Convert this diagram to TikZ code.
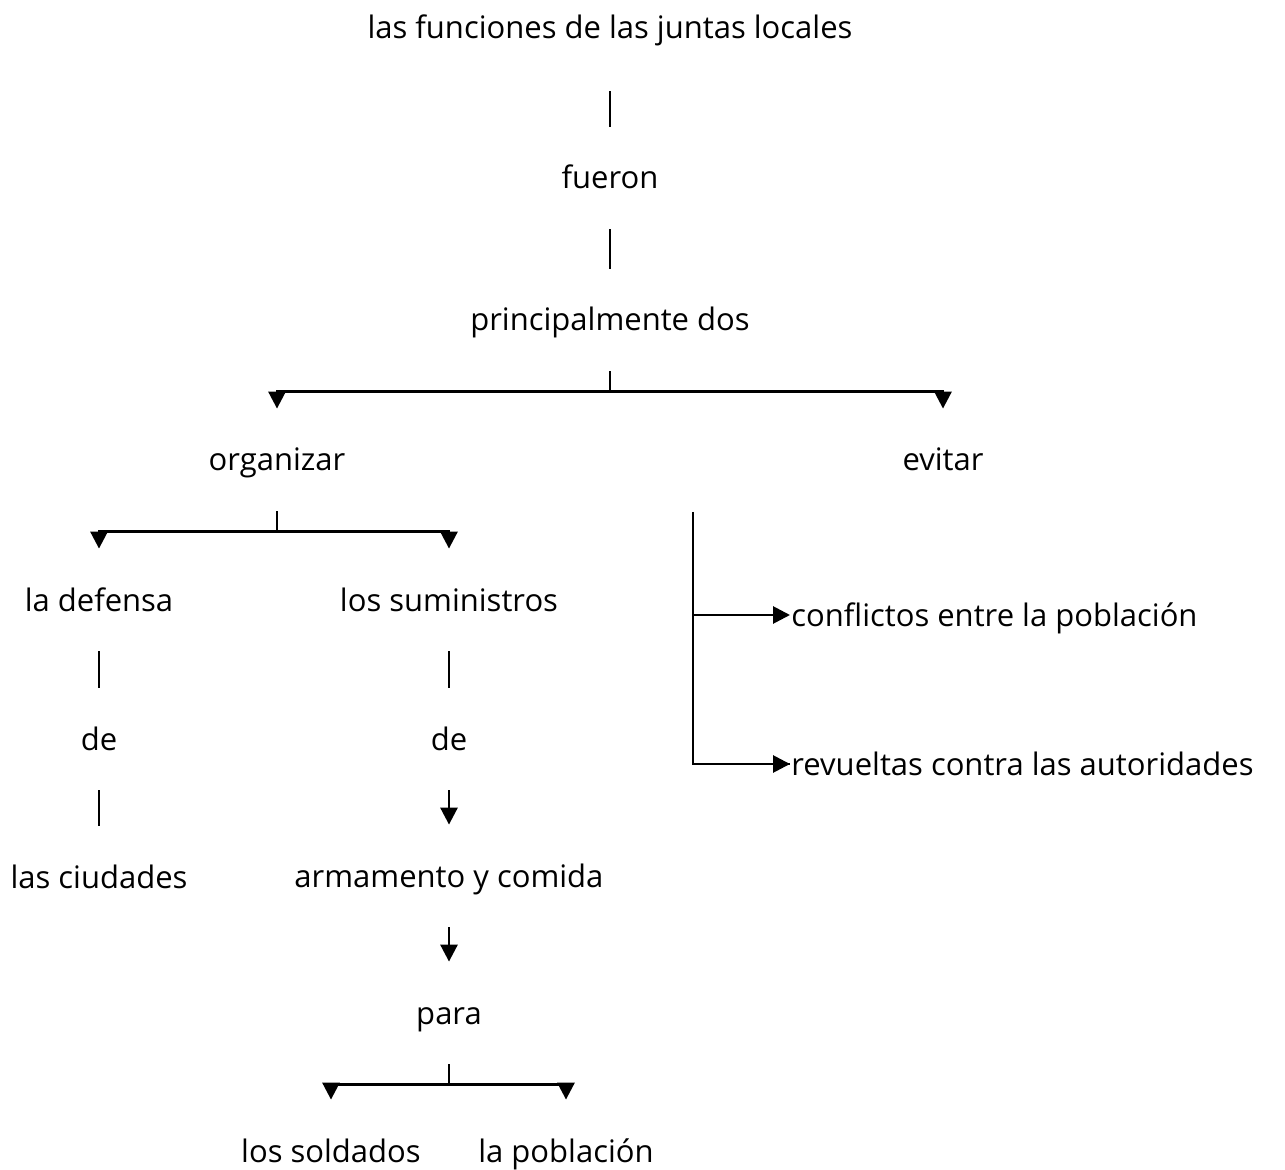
\documentclass[tikz,border=0pt]{standalone}
\usepackage{fontspec}
\setmainfont{Open Sans}
\usetikzlibrary{
  arrows.meta
}

\begin{document}
\begin{tikzpicture}[
  x=0.5pt, y=-0.5pt,
  line width=1.4pt,
  word/.style={
    inner sep=0pt,
    minimum height=50pt,
    text height=12.5pt, text depth=1.5pt,
    font=\fontsize{15.5pt}{18pt}\selectfont
  },
  link/.style={-{Triangle[length=8.5pt,width=8.5pt]}}
]
\useasboundingbox (0,0) rectangle (1285,1170);

\node [word] (funciones) at (610,28) {las funciones de las juntas locales};
\node [word] (fueron) at (610,178) {fueron};
\node [word] (principalmente) at (610,320) {principalmente dos};
\node [word] (organizar) at (277,460) {organizar};
\node [word] (evitar) at (943,460) {evitar};
\node [word] (defensa) at (99,600) {la defensa};
\node [word] (suministros) at (449,600) {los suministros};
\node [word] (de-defensa) at (99,739) {de};
\node [word] (de-suministros) at (449,739) {de};
\node [word] (ciudades) at (99,877) {las ciudades};
\node [word] (armamento) at (449,876) {armamento y comida};
\node [word] (para) at (449,1013) {para};
\node [word] (soldados) at (331,1151) {los soldados};
\node [word] (poblacion) at (566,1151) {la población};
\node [word, anchor=west] (conflictos) at (790,615) {conflictos entre la población};
\node [word, anchor=west] (revueltas) at (790,764) {revueltas contra las autoridades};

\draw [shorten <=6pt] (funciones) -- (fueron);
\draw (fueron) -- (principalmente);

\draw (principalmente.south) -- ++(0,20) coordinate (principalmente-split);
\draw [link] (principalmente-split) -| (organizar.north);
\draw [link] (principalmente-split) -| (evitar.north);

\draw (organizar.south) -- ++(0,20) coordinate (organizar-split);
\draw [link] (organizar-split) -| (defensa.north);
\draw [link] (organizar-split) -| (suministros.north);

\draw (defensa) -- (de-defensa);
\draw (de-defensa) -- (ciudades);
\draw (suministros) -- (de-suministros);
\draw [link] (de-suministros) -- (armamento);
\draw [link] (armamento) -- (para);

\draw (para.south) -- ++(0,20) coordinate (para-split);
\draw [link] (para-split) -| (soldados.north);
\draw [link] (para-split) -| (poblacion.north);

\coordinate (evitar-spine) at (693,512);
\draw (evitar-spine) |- (revueltas.west);
\draw [link] (evitar-spine |- conflictos.west) -- (conflictos.west);
\draw [link] (evitar-spine |- revueltas.west) -- (revueltas.west);

\end{tikzpicture}
\end{document}
